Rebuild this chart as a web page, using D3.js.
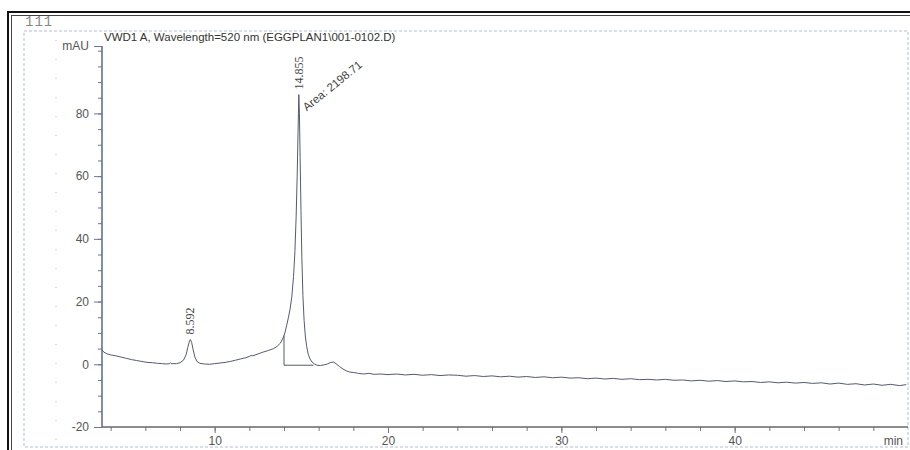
<!DOCTYPE html>
<html>
<head>
<meta charset="utf-8">
<script src="https://cdn.jsdelivr.net/npm/d3@7"></script>
<style>
body { margin: 0; background: #fff; }
svg { display: block; }
</style>
</head>
<body>
<script>
// chromatogram trace
const times = [3.5, 3.6, 3.8, 4.0, 4.3, 4.6, 4.9, 5.2, 5.5, 5.8, 6.1, 6.4, 6.7, 7.0, 7.2, 7.4, 7.45, 7.5, 7.8, 8.0,
    8.2, 8.35, 8.45, 8.55, 8.6, 8.67, 8.76, 8.86, 8.98, 9.15, 9.4, 9.7, 10.0, 10.3, 10.6, 10.9, 11.2, 11.5, 11.8, 12.0,
    12.1, 12.2, 12.5, 12.8, 13.1, 13.4, 13.6, 13.8, 13.95, 14.05, 14.15, 14.25, 14.35, 14.45, 14.55, 14.63, 14.7, 14.76, 14.81, 14.855,
    14.89, 14.93, 14.98, 15.03, 15.09, 15.16, 15.23, 15.31, 15.4, 15.5, 15.62, 15.75, 15.9, 16.1, 16.3, 16.5, 16.7, 16.85, 17.0, 17.2,
    17.4, 17.6, 17.8, 18.0, 18.3, 18.6, 18.9, 19.2, 19.6, 20.0, 20.5, 21.0, 21.5, 22.0, 22.5, 23.0, 23.5, 24.0, 24.5, 25.0,
    25.5, 26.0, 26.5, 27.0, 27.5, 28.0, 28.5, 29.0, 29.5, 30.0, 30.5, 31.0, 31.5, 32.0, 32.5, 33.0, 33.5, 34.0, 34.5, 35.0,
    35.5, 36.0, 36.5, 37.0, 37.5, 38.0, 38.5, 39.0, 39.5, 40.0, 40.5, 41.0, 41.5, 42.0, 42.5, 43.0, 43.5, 44.0, 44.5, 45.0,
    45.5, 46.0, 46.5, 47.0, 47.5, 48.0, 48.5, 49.0, 49.5, 49.9];
const signal = [4.6, 3.9, 3.3, 3.0, 2.7, 2.3, 1.9, 1.5, 1.2, 0.9, 0.6, 0.5, 0.3, 0.2, 0.1, 0.2, 0.5, 0.2, 0.2, 0.5,
    1.3, 3.0, 5.4, 7.5, 7.9, 7.0, 4.6, 2.3, 0.9, 0.3, 0.1, 0.0, 0.2, 0.4, 0.6, 0.9, 1.3, 1.7, 2.1, 2.5,
    2.8, 2.7, 3.3, 3.9, 4.4, 5.0, 5.7, 6.8, 8.4, 10.0, 12.3, 14.8, 17.6, 21.5, 28, 36, 47, 60, 74, 86,
    80, 66, 49, 34, 22, 14, 9, 5.6, 3.2, 1.7, 0.7, 0.1, -0.3, -0.4, -0.2, 0.1, 0.6, 0.7, 0.2, -0.7,
    -1.5, -2.1, -2.5, -2.6, -2.9, -3.1, -2.9, -3.2, -3.1, -3.3, -3.1, -3.4, -3.2, -3.5, -3.3, -3.6, -3.4, -3.5, -3.8, -3.6,
    -3.9, -3.7, -4.0, -3.8, -4.1, -3.9, -4.2, -4.0, -4.3, -4.1, -4.4, -4.3, -4.6, -4.4, -4.7, -4.5, -4.8, -4.6, -4.9, -4.8,
    -5.0, -4.8, -5.1, -5.0, -5.3, -5.1, -5.4, -5.2, -5.5, -5.3, -5.6, -5.5, -5.8, -5.6, -5.9, -5.7, -6.0, -5.8, -6.1, -5.9,
    -6.3, -6.0, -6.4, -6.2, -6.6, -6.3, -6.7, -6.4, -6.8, -6.5];

// peaks found by the integrator
const peakTimes = [8.592, 14.855];
const peakHeights = [7.9, 86];
const peakLabels = ["8.592", "14.855"];
const areaLabel = "Area: 2198.71";
// integration baseline of the main peak (drop line + base)
const baseTimes = [14.0, 14.0, 15.7];
const baseValues = [9.2, -0.3, -0.3];

const xTicks = [10, 20, 30, 40];
const yTicks = [-20, 0, 20, 40, 60, 80];
const yTop = 101.5;

const title = "VWD1 A, Wavelength=520 nm (EGGPLAN1\\001-0102.D)";

const W = 910, H = 450;
const svg = d3.select("body").append("svg")
    .attr("width", W)
    .attr("height", H);

const x = d3.scaleLinear().domain([3.5, 50]).range([102, 908]);
const y = d3.scaleLinear().domain([-20, yTop]).range([427, 46]);

// ramecek okolo
svg.append("rect")
    .attr("x", 8).attr("y", 12)
    .attr("width", 910).attr("height", 450)
    .attr("fill", "none").attr("stroke", "#111").attr("stroke-width", 2);
svg.append("rect")
    .attr("x", 11.5).attr("y", 15.5)
    .attr("width", 910).attr("height", 450)
    .attr("fill", "none").attr("stroke", "#444").attr("stroke-width", 1);

svg.append("text")
    .attr("x", 25).attr("y", 26)
    .attr("font-family", "Liberation Mono")
    .attr("font-size", 14)
    .attr("letter-spacing", 1)
    .attr("fill", "#888")
    .text("111");

// dashed plot box
svg.append("rect")
    .attr("x", 24).attr("y", 31)
    .attr("width", 884).attr("height", 416)
    .attr("fill", "none")
    .attr("stroke", "#b3bdd6")
    .attr("stroke-width", 1)
    .attr("stroke-dasharray", "3,2");
svg.append("line")
    .attr("x1", 56).attr("x2", 56)
    .attr("y1", 40).attr("y2", 446)
    .attr("stroke", "#bbb")
    .attr("stroke-dasharray", "1,18");

svg.append("text")
    .attr("x", 104).attr("y", 41)
    .attr("font-family", "Liberation Sans")
    .attr("font-size", 11.5)
    .attr("fill", "#333")
    .text(title);

// y axis
const gy = svg.append("g").attr("transform", "translate(102,0)");
gy.call(d3.axisLeft(y).tickValues(d3.range(-20, yTop, 5)).tickSize(4).tickFormat(""));
gy.append("g").call(d3.axisLeft(y).tickValues(yTicks.concat([yTop])).tickSize(8).tickPadding(5)
    .tickFormat(d => d === yTop ? "mAU" : d));
gy.selectAll("path").attr("stroke", "#5a6790").attr("d", `M0,${y(-20)}V${y(yTop)}`);
gy.selectAll(".tick line").attr("stroke", "#6a7598");
gy.selectAll("text")
    .attr("font-family", "Liberation Sans")
    .attr("font-size", 12)
    .attr("fill", "#555");

// x axis
const gx = svg.append("g").attr("transform", `translate(0,${y(-20)})`);
gx.call(d3.axisBottom(x).tickValues(d3.range(4, 50, 2)).tickSize(4).tickFormat(""));
gx.append("g").call(d3.axisBottom(x).tickValues(xTicks).tickSize(6).tickPadding(3));
gx.selectAll("path").attr("stroke", "#666").attr("d", `M${x(3.5)},0H${x(50)}`);
gx.selectAll(".tick line").attr("stroke", "#777");
gx.selectAll("text")
    .attr("font-family", "Liberation Sans")
    .attr("font-size", 12)
    .attr("fill", "#555");
gx.append("text")
    .attr("x", 903).attr("y", 18)
    .attr("text-anchor", "end")
    .attr("font-family", "Liberation Sans")
    .attr("font-size", 12)
    .attr("fill", "#555")
    .text("min");

// signal
const line = d3.line()
    .x((d, i) => x(times[i]))
    .y(d => y(d));
svg.append("path")
    .datum(signal)
    .attr("d", line)
    .attr("fill", "none")
    .attr("stroke", "#555b6e")
    .attr("stroke-width", 1);

svg.append("path")
    .datum(baseValues)
    .attr("d", d3.line().x((d, i) => x(baseTimes[i])).y(d => y(d)))
    .attr("fill", "none")
    .attr("stroke", "#555b6e")
    .attr("stroke-width", 1);

// peak labels
peakTimes.forEach((t, i) => {
    svg.append("text")
        .attr("transform", `translate(${x(t) + 4},${y(peakHeights[i]) - 5}) rotate(-90)`)
        .attr("font-family", "Liberation Serif, DejaVu Serif, serif")
        .attr("font-size", 12)
        .attr("fill", "#444")
        .text(peakLabels[i]);
});
svg.append("text")
    .attr("transform", `translate(${x(14.855) + 8},${y(86) + 17}) rotate(-39)`)
    .attr("font-family", "Liberation Sans")
    .attr("font-size", 11.5)
    .attr("fill", "#444")
    .text(areaLabel);
</script>
</body>
</html>
